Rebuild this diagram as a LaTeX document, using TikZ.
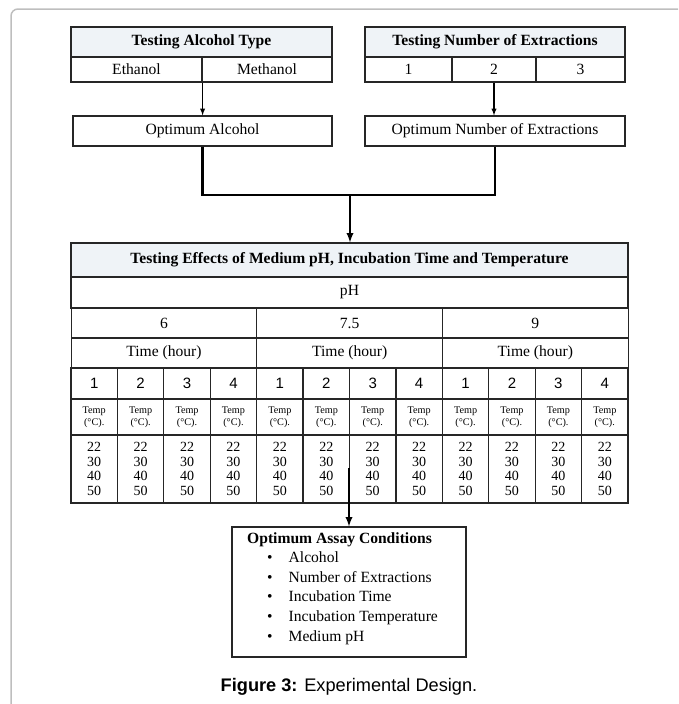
\documentclass[tikz,border=0pt]{standalone}
\usepackage{fontspec}
\setmainfont{Liberation Serif}
\setsansfont{Liberation Sans}
\definecolor{headfill}{RGB}{239,243,247}
\definecolor{framegray}{RGB}{190,190,190}
\begin{document}
\begin{tikzpicture}
    [
    x=1pt,y=-1pt,
    cell/.style={rectangle,draw=black!85,line width=1.2pt,inner sep=0pt,font=\fontsize{15.6}{18}\selectfont},
    headcell/.style={cell,fill=headfill,font=\fontsize{15.6}{18}\selectfont\bfseries},
    tempcell/.style={cell,align=center,font=\fontsize{10.2}{11.5}\selectfont},
    valcell/.style={cell,align=center,font=\fontsize{14}{14.6}\selectfont},
    thinarrow/.style={-latex,line width=1.3pt},
    thickline/.style={line width=2.4pt}
    ]
    \useasboundingbox (0,0) rectangle (678,704);
    \draw [framegray,line width=1.5pt,rounded corners=7pt] (11,704) -- (11,9) -- (678,9);
    % alcohol type
    \node (alc) at (201.5,42) [headcell,minimum width=261,minimum height=30] {Testing Alcohol Type};
    \node (eth) at (136.5,69.5) [cell,minimum width=131,minimum height=25] {Ethanol};
    \node (meth) at (267,69.5) [cell,minimum width=130,minimum height=25] {Methanol};
    % number of extractions
    \node (ext) at (495,42) [headcell,minimum width=260,minimum height=30] {Testing Number of Extractions};
    \node (n1) at (408.5,69.5) [cell,minimum width=87,minimum height=25] {1};
    \node (n2) at (494,69.5) [cell,minimum width=84,minimum height=25] {2};
    \node (n3) at (580.5,69.5) [cell,minimum width=89,minimum height=25] {3};
    \node (optalc) at (202.5,131) [cell,minimum width=259,minimum height=30] {Optimum Alcohol};
    \node (optext) at (495,131) [cell,minimum width=260,minimum height=30] {Optimum Number of Extractions};
    \draw [thinarrow] (eth.south east) to (eth.south east |- optalc.north);
    \draw [thinarrow] (n2.south) to (n2.south |- optext.north);
    % big table
    \node (tbl) at (349.5,260) [headcell,minimum width=557,minimum height=34] {Testing Effects of Medium pH, Incubation Time and Temperature};
    \node (ph) at (349.5,292.5) [cell,minimum width=557,minimum height=31] {pH};
    \foreach \g/\v in {0/6,1/7.5,2/9} {
      \node (g\g) at (164+185.67*\g,323) [cell,minimum width=185.67,minimum height=30] {\v};
      \node (h\g) at (164+185.67*\g,353) [cell,minimum width=185.67,minimum height=30] {Time (hour)};
    }
    \foreach \i in {0,...,11} {
      \pgfmathtruncatemacro{\t}{mod(\i,4)+1}
      \node (d\i) at (94.2+46.42*\i,383.5) [cell,minimum width=46.42,minimum height=31,font=\fontsize{15}{18}\sffamily] {\t};
      \node (t\i) at (94.2+46.42*\i,417) [tempcell,minimum width=46.42,minimum height=36] {Temp\\(°C).};
      \node (v\i) at (94.2+46.42*\i,469) [valcell,minimum width=46.42,minimum height=68] {22\\30\\40\\50};
    }
    \coordinate (join) at (350,195);
    \draw [thickline] (optalc.south) |- (join);
    \draw [thickline] (optext.south) |- (join);
    \draw [-latex,line width=2.2pt] (join) to (join |- tbl.north);
    % result
    \node (res) at (349,592) [cell,minimum width=234,minimum height=130] {};
    \node (reslist) at (247,532) [anchor=north west,inner sep=0pt,align=left,font=\fontsize{15.6}{19.6}\selectfont]
      {\textbf{Optimum Assay Conditions}\\
       \hspace{20pt}\textbullet\hspace{16pt}Alcohol\\
       \hspace{20pt}\textbullet\hspace{16pt}Number of Extractions\\
       \hspace{20pt}\textbullet\hspace{16pt}Incubation Time\\
       \hspace{20pt}\textbullet\hspace{16pt}Incubation Temperature\\
       \hspace{20pt}\textbullet\hspace{16pt}Medium pH};
    \coordinate (src) at (349,468);
    \draw [-latex,line width=2.2pt] (src) to (src |- res.north);
    \node (cap) at (349,687) [font=\fontsize{18.2}{20}\sffamily] {\textbf{Figure 3:} Experimental Design.};
  \end{tikzpicture}
\end{document}
